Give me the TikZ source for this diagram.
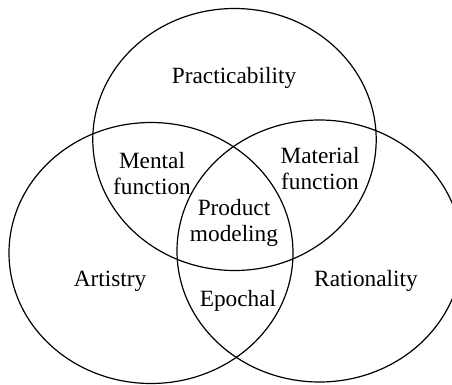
\documentclass[tikz,border=0pt]{standalone}
\usepackage{fontspec}
\setmainfont{Liberation Serif}
\begin{document}
\begin{tikzpicture}[x=1pt,y=-1pt,
  ring/.style={draw=black,line width=1.2pt},
  label/.style={font=\fontsize{23.3}{26}\selectfont,align=center,inner sep=0pt}]
\useasboundingbox (0,0) rectangle (452,385);
\clip (0,0) rectangle (452,385);
% three overlapping sets
\draw[ring] (234.5,139.5) ellipse [x radius=141.7pt, y radius=131pt];
\draw[ring] (151,253) ellipse [x radius=142pt, y radius=130.5pt];
\draw[ring] (319.5,251) ellipse [x radius=142.5pt, y radius=131pt];
% region labels
\node[label,anchor=base] (prac) at (234,84) {Practicability};
\node[label,anchor=base] (art) at (110,286) {Artistry};
\node[label,anchor=base] (rat) at (366,286) {Rationality};
\node[label,anchor=base] (epo) at (238,306) {Epochal};
\node[label] (men) at (152,173.3) {Mental\\function};
\node[label] (mat) at (320,168.3) {Material\\function};
\node[label] (prod) at (234,223.3) {Product\\modeling};
\end{tikzpicture}
\end{document}
